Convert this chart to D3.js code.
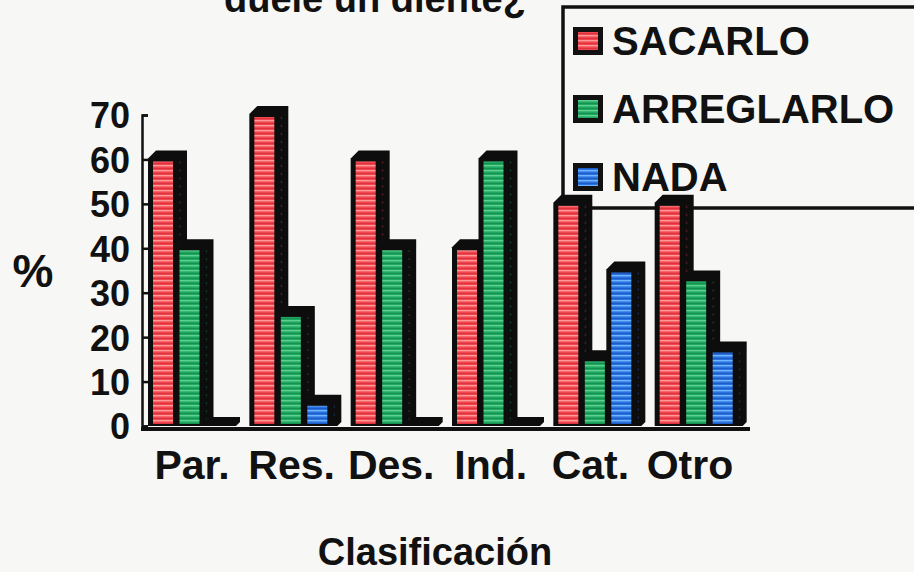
<!DOCTYPE html>
<html>
<head>
<meta charset="utf-8">
<script src="https://cdn.jsdelivr.net/npm/d3@7"></script>
<style>
  html, body { margin: 0; padding: 0; background: #f7f7f5; }
  svg { display: block; }
  text { font-family: "Liberation Sans", Arial, sans-serif; font-weight: bold; fill: #111; }
</style>
</head>
<body>
<svg id="chart" width="914" height="572"></svg>
<script>
// ---- data ----
const categories = ["Par.", "Res.", "Des.", "Ind.", "Cat.", "Otro"];
const seriesNames = ["SACARLO", "ARREGLARLO", "NADA"];
const sacarlo    = [60, 70, 60, 40, 50, 50];
const arreglarlo = [40, 25, 40, 60, 15, 33];
const nada       = [0, 5, 0, 0, 35, 17];
const yTicks = [0, 10, 20, 30, 40, 50, 60, 70];
const titleText = "duele un diente¿";
const xTitle = "Clasificación";
const yTitle = "%";

const seriesValues = [sacarlo, arreglarlo, nada];
const baseColors  = ["#f04650", "#1fa862", "#2a72e0"];
const stripeColors = ["#ff9a98", "#5fd08e", "#6fb6ff"];
const darkColors = ["#c8202c", "#0f7a40", "#1646b0"];

const svg = d3.select("#chart");

// patterns
const defs = svg.append("defs");
seriesNames.forEach((s, i) => {
  const p = defs.append("pattern")
    .attr("id", "pat" + i)
    .attr("patternUnits", "userSpaceOnUse")
    .attr("width", 8).attr("height", 5);
  p.append("rect").attr("width", 8).attr("height", 5).attr("fill", baseColors[i]);
  p.append("rect").attr("y", 0).attr("width", 8).attr("height", 1.4).attr("fill", stripeColors[i]);
  p.append("rect").attr("y", 3).attr("width", 8).attr("height", 1).attr("fill", darkColors[i]).attr("opacity", 0.5);
});

// scales
const x = d3.scaleBand().domain(categories).range([143, 751]).paddingInner(0).paddingOuter(0);
const xLabel = d3.scalePoint().domain(categories).range([192, 690]);
const y = d3.scaleLinear().domain([0, 70]).range([426, 115]);
const seriesIdx = d3.scaleLinear().domain([0, 1]).range([10, 36.5]);
const barW = 20;

// title (partially cut at the top, as in the source image)
svg.append("text").attr("x", 224).attr("y", 12)
  .attr("font-size", 38).text(titleText);

// legend box
const lg = svg.append("g");
lg.append("rect").attr("x", 563).attr("y", 7).attr("width", 420).attr("height", 201)
  .attr("fill", "none").attr("stroke", "#111").attr("stroke-width", 3.5);
seriesNames.forEach((s, i) => {
  const base = 55 + i * 68;
  lg.append("rect").attr("x", 573).attr("y", base - 28).attr("width", 30).attr("height", 28).attr("fill", "#111");
  lg.append("rect").attr("x", 578).attr("y", base - 23).attr("width", 20).attr("height", 18).attr("fill", "url(#pat" + i + ")");
  lg.append("text").attr("x", 612).attr("y", base).attr("font-size", 40).text(s);
});

// y axis
const yAxis = d3.axisLeft(y).tickValues(yTicks).tickSize(-6).tickPadding(12).tickFormat(d3.format("d"));
const ga = svg.append("g").attr("transform", "translate(142,0)").call(yAxis);
ga.select(".domain").attr("stroke", "#111").attr("stroke-width", 2.5);
ga.selectAll(".tick line").attr("stroke", "#111").attr("stroke-width", 2.5);
ga.selectAll(".tick text").attr("font-size", 36).attr("dy", "0.36em")
  .style("font-family", "'Liberation Sans', Arial, sans-serif").style("font-weight", "bold").attr("fill", "#111");

// bars
const y0 = y(0);
const gb = svg.append("g");
categories.forEach((c, ci) => {
  seriesValues.forEach((vals, si) => {
    const v = vals[ci];
    const bx = x(c) + seriesIdx(si);
    const yv = y(v);
    const pts = [
      [bx - 5, y0],
      [bx - 5, yv - 1],
      [bx + 3, yv - 9],
      [bx + barW + 14, yv - 9],
      [bx + barW + 14, y0 - 4],
      [bx + barW + 10, y0]
    ];
    gb.append("polygon").attr("points", pts.map(p => p.join(",")).join(" ")).attr("fill", "#0d0d0d");
    const h = y0 - 2 - (yv + 2);
    if (h > 0) {
      gb.append("rect").attr("x", bx).attr("y", yv + 2).attr("width", barW).attr("height", h)
        .attr("fill", "url(#pat" + si + ")");
      gb.append("line").attr("x1", bx + barW + 7).attr("x2", bx + barW + 7)
        .attr("y1", yv + 2).attr("y2", y0 - 4)
        .attr("stroke", baseColors[si]).attr("stroke-opacity", 0.35)
        .attr("stroke-width", 1.2).attr("stroke-dasharray", "2 6");
    }
  });
});

// floor line
svg.append("line").attr("x1", 141).attr("x2", 750).attr("y1", y0 + 3).attr("y2", y0 + 3)
  .attr("stroke", "#111").attr("stroke-width", 4);

// x labels
svg.append("g").selectAll("text").data(categories).join("text")
  .attr("x", d => xLabel(d)).attr("y", 479).attr("text-anchor", "middle")
  .attr("font-size", 41).text(d => d);

// axis titles
svg.append("text").attr("x", 435).attr("y", 565).attr("text-anchor", "middle")
  .attr("font-size", 38).text(xTitle);
svg.append("text").attr("x", 33).attr("y", 287).attr("text-anchor", "middle")
  .attr("font-size", 46).text(yTitle);
</script>
</body>
</html>
